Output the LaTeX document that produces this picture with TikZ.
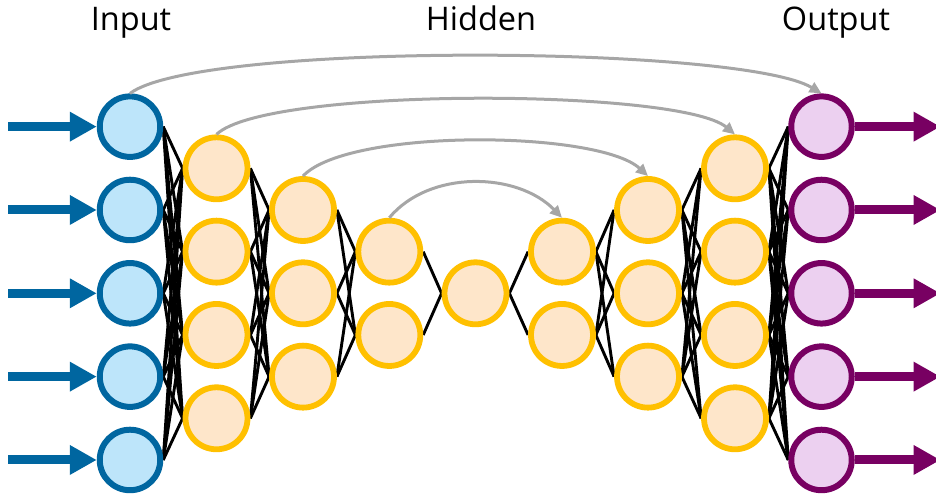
\documentclass[tikz,border=0pt]{standalone}
\usepackage{fontspec}
\setmainfont{Open Sans}
\usetikzlibrary{arrows.meta,backgrounds}

\definecolor{inedge}{RGB}{0,102,160}
\definecolor{infill}{RGB}{189,229,250}
\definecolor{hidedge}{RGB}{255,192,0}
\definecolor{hidfill}{RGB}{254,230,202}
\definecolor{outedge}{RGB}{120,0,98}
\definecolor{outfill}{RGB}{236,208,240}
\definecolor{skipgray}{RGB}{166,166,166}

\begin{document}
\begin{tikzpicture}[
  x=1pt, y=-1pt,
  neuron/.style={circle, inner sep=0pt, minimum size=61pt, line width=6pt},
  inneuron/.style={neuron, draw=inedge, fill=infill, minimum size=60.5pt},
  hidneuron/.style={neuron, draw=hidedge, fill=hidfill, minimum size=62pt, line width=5.8pt},
  outneuron/.style={neuron, draw=outedge, fill=outfill, minimum size=60.5pt},
  link/.style={black, line width=2.9pt},
  skiplink/.style={skipgray, line width=3pt, -{Triangle[length=12pt,width=11pt]}},
  inarrow/.style={inedge, line width=9pt, -{Triangle[length=27pt,width=28pt]}},
  outarrow/.style={outedge, line width=9pt, -{Triangle[length=27pt,width=28pt]}},
  caption/.style={anchor=base, inner sep=0pt, font=\fontsize{32.5}{38}\selectfont}
]
\clip (0,0) rectangle (936,498);

% layer titles
\node[caption] (lblin)  at (131,30) {Input};
\node[caption] (lblhid) at (481,30) {Hidden};
\node[caption] (lblout) at (836,30) {Output};

% neurons, layer by layer
\foreach \l/\x/\n/\st in {1/130/5/inneuron, 2/216.5/4/hidneuron, 3/303/3/hidneuron,
    4/389.3/2/hidneuron, 5/475.5/1/hidneuron, 6/562/2/hidneuron, 7/648/3/hidneuron,
    8/735/4/hidneuron, 9/821.5/5/outneuron} {
  \foreach \j in {1,...,\n} {
    \node[\st] (n\l-\j) at (\x, {293.3+(\j-(\n+1)/2)*83.33}) {};
  }
}

% full connections between neighbouring layers
\begin{scope}[on background layer]
  \foreach \a/\na/\b/\nb in {1/5/2/4, 2/4/3/3, 3/3/4/2, 4/2/5/1,
      5/1/6/2, 6/2/7/3, 7/3/8/4, 8/4/9/5} {
    \foreach \i in {1,...,\na} {
      \foreach \k in {1,...,\nb} {
        \draw[link] (n\a-\i.east) -- (n\b-\k.west);
      }
    }
  }
\end{scope}

% skip connections
\draw[skiplink] (n1-1.north) .. controls +(70,-52) and +(-80,-48) .. (n9-1.north);
\draw[skiplink] (n2-1.north) .. controls +(50,-48) and +(-55,-46) .. (n8-1.north);
\draw[skiplink] (n3-1.north) .. controls +(45,-48) and +(-50,-46) .. (n7-1.north);
\draw[skiplink] (n4-1.north) .. controls +(40,-48) and +(-45,-46) .. (n6-1.north);

% inputs and outputs
\foreach \j in {1,...,5} {
  \coordinate (src\j) at ([xshift=-122pt]n1-\j.center);
  \draw[inarrow] (src\j) -- (n1-\j.west);
  \coordinate (dst\j) at ([xshift=119pt]n9-\j.center);
  \draw[outarrow] (n9-\j.east) -- (dst\j);
}
\end{tikzpicture}
\end{document}
